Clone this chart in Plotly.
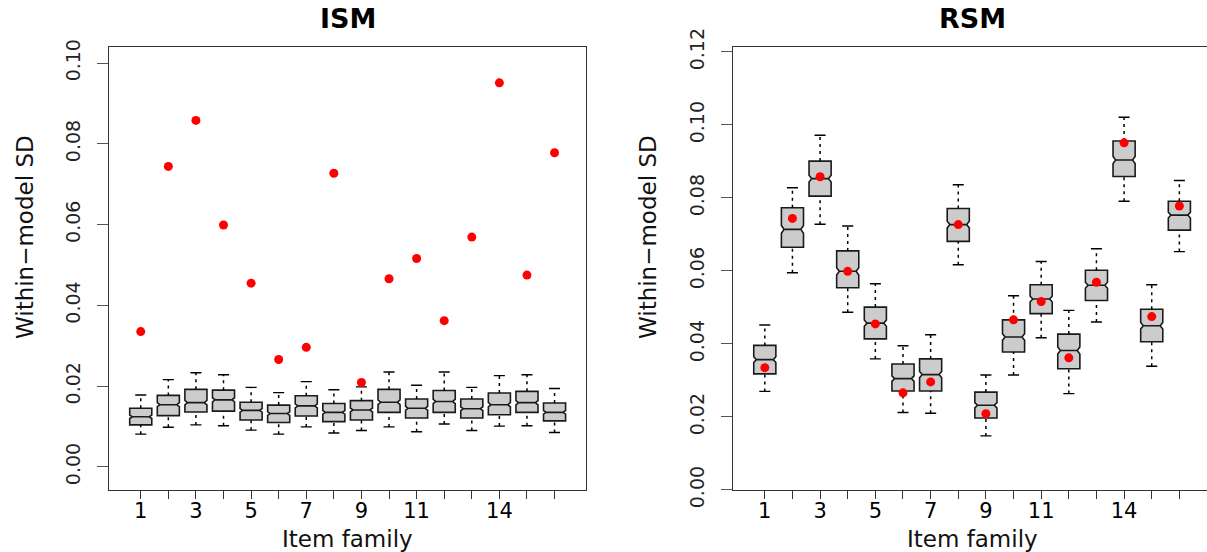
import numpy as np
import plotly.graph_objects as go

# Item families on the x axis and the labels printed under their ticks
families = list(range(1, 17))
family_labels = ["1", "", "3", "", "5", "", "7", "", "9", "", "11", "", "", "14", "", ""]

# Observed within-model SD per item family (red points, same in both panels)
observed_sd = [0.0335, 0.0744, 0.0858, 0.0599, 0.0455, 0.0266, 0.0296, 0.0727,
               0.0209, 0.0466, 0.0516, 0.0362, 0.0569, 0.0951, 0.0475, 0.0778]

# ISM: replicated within-model SD summaries
ism_low = [0.0081, 0.0098, 0.0104, 0.0102, 0.0091, 0.0081, 0.0099, 0.0084,
           0.0090, 0.0099, 0.0087, 0.0106, 0.0090, 0.0101, 0.0102, 0.0085]
ism_q1 = [0.0104, 0.0127, 0.0136, 0.0138, 0.0116, 0.0110, 0.0126, 0.0112,
          0.0116, 0.0135, 0.0121, 0.0135, 0.0121, 0.0129, 0.0135, 0.0114]
ism_med = [0.0124, 0.0154, 0.0159, 0.0166, 0.0140, 0.0132, 0.0151, 0.0135,
           0.0141, 0.0160, 0.0145, 0.0162, 0.0144, 0.0154, 0.0159, 0.0135]
ism_q3 = [0.0145, 0.0177, 0.0192, 0.0190, 0.0160, 0.0153, 0.0176, 0.0157,
          0.0164, 0.0192, 0.0168, 0.0189, 0.0168, 0.0183, 0.0187, 0.0158]
ism_high = [0.0178, 0.0216, 0.0233, 0.0228, 0.0197, 0.0184, 0.0211, 0.0191,
            0.0198, 0.0235, 0.0202, 0.0235, 0.0197, 0.0226, 0.0228, 0.0194]

# RSM: replicated within-model SD summaries
rsm_low = [0.0270, 0.0595, 0.0728, 0.0487, 0.0359, 0.0212, 0.0210, 0.0617,
           0.0148, 0.0315, 0.0417, 0.0264, 0.0460, 0.0791, 0.0339, 0.0653]
rsm_q1 = [0.0318, 0.0665, 0.0805, 0.0554, 0.0414, 0.0271, 0.0271, 0.0681,
          0.0197, 0.0378, 0.0483, 0.0332, 0.0519, 0.0859, 0.0406, 0.0712]
rsm_med = [0.0357, 0.0714, 0.0853, 0.0599, 0.0457, 0.0305, 0.0316, 0.0727,
           0.0232, 0.0419, 0.0523, 0.0382, 0.0561, 0.0904, 0.0450, 0.0753]
rsm_q3 = [0.0396, 0.0773, 0.0901, 0.0655, 0.0501, 0.0345, 0.0359, 0.0771,
          0.0268, 0.0466, 0.0562, 0.0427, 0.0602, 0.0956, 0.0495, 0.0791]
rsm_high = [0.0452, 0.0828, 0.0972, 0.0723, 0.0565, 0.0395, 0.0425, 0.0836,
            0.0315, 0.0532, 0.0626, 0.0492, 0.0661, 0.1021, 0.0562, 0.0848]

N_DRAWS = 250          # replications behind each box (sets notch height)
BOX_WIDTH = 0.8
STAPLE_HALF = 0.2
FONT = "DejaVu Sans"
INK = "#1a1a1a"

W, H = 1207, 552


def px_x(p):
    return p / W


def px_y(p):
    return 1 - p / H


def panel_traces(low, q1, med, q3, high, xa, ya):
    q1a, q3a = np.array(q1), np.array(q3)
    notch = 1.58 * (q3a - q1a) / np.sqrt(N_DRAWS)
    box = go.Box(
        x=families, q1=q1, median=med, q3=q3,
        lowerfence=q1, upperfence=q3,
        notched=True, notchspan=notch.tolist(), notchwidth=0.12,
        width=BOX_WIDTH, whiskerwidth=0,
        fillcolor="#cccccc", line=dict(color=INK, width=1.6),
        boxpoints=False, hoverinfo="skip", showlegend=False,
        xaxis=xa, yaxis=ya,
    )
    # dashed whiskers
    wx, wy = [], []
    for f, lo, a, b, hi in zip(families, low, q1, q3, high):
        wx += [f, f, None, f, f, None]
        wy += [b, hi, None, lo, a, None]
    whisk = go.Scatter(x=wx, y=wy, mode="lines",
                       line=dict(color="black", width=1.5, dash="3px,4px"),
                       hoverinfo="skip", showlegend=False, xaxis=xa, yaxis=ya)
    # solid staples at the whisker ends
    sx, sy = [], []
    for f, lo, hi in zip(families, low, high):
        sx += [f - STAPLE_HALF, f + STAPLE_HALF, None, f - STAPLE_HALF, f + STAPLE_HALF, None]
        sy += [hi, hi, None, lo, lo, None]
    staple = go.Scatter(x=sx, y=sy, mode="lines",
                        line=dict(color="black", width=1.4),
                        hoverinfo="skip", showlegend=False, xaxis=xa, yaxis=ya)
    pts = go.Scatter(x=families, y=observed_sd, mode="markers",
                     marker=dict(color="#ff0000", size=9, line=dict(width=0)),
                     hoverinfo="skip", showlegend=False, xaxis=xa, yaxis=ya)
    return [box, whisk, staple, pts]


fig = go.Figure()
for t in panel_traces(ism_low, ism_q1, ism_med, ism_q3, ism_high, "x", "y"):
    fig.add_trace(t)
for t in panel_traces(rsm_low, rsm_q1, rsm_med, rsm_q3, rsm_high, "x2", "y2"):
    fig.add_trace(t)

y_dom = [px_y(490.3), px_y(46.5)]

xaxis_common = dict(
    tickmode="array", tickvals=families, ticktext=family_labels,
    ticks="outside", ticklen=8, tickwidth=1.2, tickcolor="#333333",
    tickfont=dict(family=FONT, size=21, color="black"),
    showline=True, linecolor="#333333", linewidth=1.3,
    showgrid=False, zeroline=False, ticklabelstandoff=-7, automargin=False,
)
yaxis_common = dict(
    ticks="outside", ticklen=11, tickwidth=1.2, tickcolor="#555555",
    tickfont=dict(family=FONT, size=19, color="#222222"), tickangle=-90,
    showline=True, linecolor="#333333", linewidth=1.3,
    showgrid=False, zeroline=False, tickformat=".2f", ticklabelstandoff=10,
    automargin=False,
)

fig.update_layout(
    width=W, height=H,
    margin=dict(l=0, r=0, t=0, b=0, autoexpand=False),
    paper_bgcolor="white", plot_bgcolor="white",
    showlegend=False,
    xaxis=dict(domain=[px_x(109.3), px_x(586)], range=[-0.14, 17.14],
               mirror=True, anchor="y", **xaxis_common),
    yaxis=dict(domain=y_dom, range=[-0.0058, 0.1041], tickvals=[0, 0.02, 0.04, 0.06, 0.08, 0.10],
               mirror=True, anchor="x", **yaxis_common),
    xaxis2=dict(domain=[px_x(733.3), 1.0], range=[-0.14, 17.0],
                mirror=True, anchor="y2", **xaxis_common),
    yaxis2=dict(domain=y_dom, range=[-0.0001, 0.1215],
                tickvals=[0, 0.02, 0.04, 0.06, 0.08, 0.10, 0.12],
                mirror=False, anchor="x2", **yaxis_common),
)

annotations = []
for title, cx in (("ISM", 347.5), ("RSM", 972.5)):
    annotations.append(dict(text="<b>%s</b>" % title, x=px_x(cx), y=px_y(18),
                            xref="paper", yref="paper", showarrow=False,
                            xanchor="center", yanchor="middle",
                            font=dict(family=FONT, size=27, color="black")))
    annotations.append(dict(text="Item family", x=px_x(cx), y=px_y(539),
                            xref="paper", yref="paper", showarrow=False,
                            xanchor="center", yanchor="middle",
                            font=dict(family=FONT, size=23, color="#111111")))
for cx in (25, 648):
    annotations.append(dict(text="Within\u2212model SD", x=px_x(cx), y=px_y(237),
                            xref="paper", yref="paper", showarrow=False,
                            textangle=-90, xanchor="center", yanchor="middle",
                            font=dict(family=FONT, size=23, color="#111111")))
fig.update_layout(annotations=annotations)

fig.write_html("out.html")
